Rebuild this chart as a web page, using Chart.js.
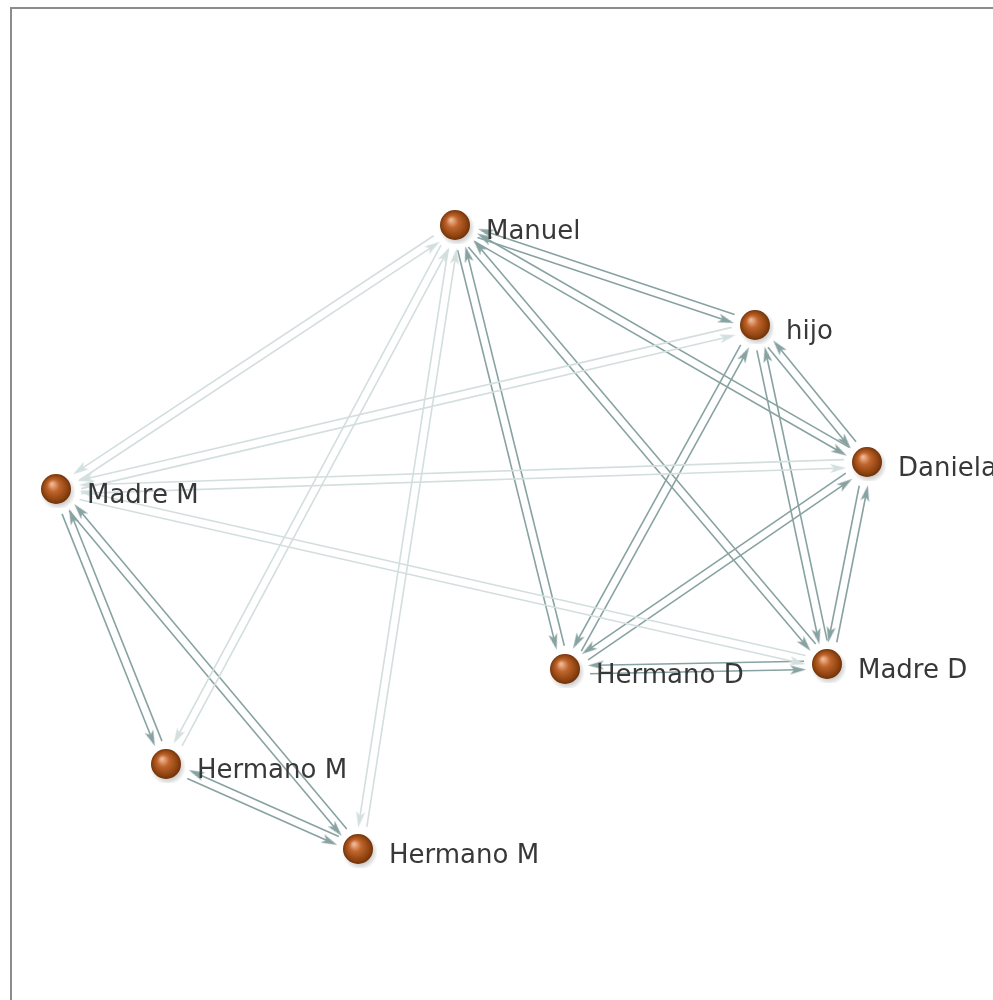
<!DOCTYPE html>
<html>
<head>
<meta charset="utf-8">
<script src="https://cdn.jsdelivr.net/npm/chart.js@4"></script>
<style>
  html, body { margin: 0; padding: 0; background: #ffffff; }
  #frame { position: absolute; left: 10px; top: 7px; width: 1100px; height: 1100px;
           border-left: 2px solid #8c8c8c; border-top: 2px solid #8c8c8c; box-sizing: border-box; }
  #wrap { position: absolute; left: 0; top: 0; width: 993px; height: 1000px; }
</style>
</head>
<body>
<div id="frame"></div>
<div id="wrap"><canvas id="c" width="993" height="1000"></canvas></div>
<script>
// ---- data ----
const nodeNames = ['Manuel', 'hijo', 'Daniela', 'Madre M', 'Hermano D', 'Madre D', 'Hermano M', 'Hermano M'];
const nodeX = [456, 756, 868, 57, 566, 828, 167, 359];
const nodeY = [226, 326, 463, 490, 670, 665, 765, 850];

// directed edges (index into nodes); strength: 1 = strong (dark), 0 = weak (light)
const edgeFrom     = [0,1, 0,2, 0,4, 0,5, 1,2, 1,4, 1,5, 2,4, 2,5, 4,5, 3,6, 3,7, 6,7,  0,3, 0,6, 0,7, 3,1, 3,2, 3,5];
const edgeTo       = [1,0, 2,0, 4,0, 5,0, 2,1, 4,1, 5,1, 4,2, 5,2, 5,4, 6,3, 7,3, 7,6,  3,0, 6,0, 7,0, 1,3, 2,3, 5,3];
const edgeStrength = [1,1, 1,1, 1,1, 1,1, 1,1, 1,1, 1,1, 1,1, 1,1, 1,1, 1,1, 1,1, 1,1,  0,0, 0,0, 0,0, 0,0, 0,0, 0,0];

// ---- styling helpers ----
const STRONG = '#88a2a2';
const WEAK = '#d3dede';

function makeArrow(color) {
  const c = document.createElement('canvas');
  c.width = 9; c.height = 16;
  const g = c.getContext('2d');
  g.fillStyle = color;
  g.beginPath();
  g.moveTo(4.5, 0);
  g.lineTo(9, 16);
  g.lineTo(4.5, 12);
  g.lineTo(0, 16);
  g.closePath();
  g.fill();
  return c;
}
function makeBall() {
  const s = 36;
  const c = document.createElement('canvas');
  c.width = s; c.height = s;
  const g = c.getContext('2d');
  const sh = g.createRadialGradient(19, 20, 11, 19, 20, 18);
  sh.addColorStop(0, 'rgba(0,0,0,0.22)');
  sh.addColorStop(1, 'rgba(0,0,0,0)');
  g.fillStyle = sh;
  g.beginPath(); g.arc(19, 20, 18, 0, Math.PI * 2); g.fill();
  const grd = g.createRadialGradient(13, 12, 1, 17, 17, 15.5);
  grd.addColorStop(0, '#eeb590');
  grd.addColorStop(0.35, '#c0642c');
  grd.addColorStop(0.8, '#8c420f');
  grd.addColorStop(1, '#6a2e08');
  g.fillStyle = grd;
  g.beginPath(); g.arc(17, 17, 15, 0, Math.PI * 2); g.fill();
  return c;
}
const arrowStrong = makeArrow(STRONG);
const arrowWeak = makeArrow(WEAK);
const ball = makeBall();

// ---- build datasets from the data ----
const OFFSET = 4.2, START_GAP = 24, END_GAP = 30;
const edgeSets = [];
[0, 1].forEach(strength => {
  edgeFrom.forEach((a, i) => {
    if (edgeStrength[i] !== strength) return;
    const b = edgeTo[i];
    const dx = nodeX[b] - nodeX[a], dy = nodeY[b] - nodeY[a];
    const L = Math.hypot(dx, dy);
    const ux = dx / L, uy = dy / L;
    const nx = -uy, ny = ux;
    const p0 = { x: nodeX[a] + ux * START_GAP + nx * OFFSET, y: nodeY[a] + uy * START_GAP + ny * OFFSET };
    const p1 = { x: nodeX[b] - ux * END_GAP + nx * OFFSET, y: nodeY[b] - uy * END_GAP + ny * OFFSET };
    const rot = Math.atan2(dx, -dy) * 180 / Math.PI;
    const col = strength ? STRONG : WEAK;
    edgeSets.push({
      type: 'scatter',
      data: [p0, p1],
      showLine: true,
      borderColor: col,
      borderWidth: 1.6,
      pointStyle: [false, strength ? arrowStrong : arrowWeak],
      pointRadius: [0, 8],
      rotation: [0, rot],
      backgroundColor: col,
      clip: false,
      order: 10
    });
  });
});

const nodeSet = {
  type: 'scatter',
  data: nodeX.map((x, i) => ({ x: x, y: nodeY[i] })),
  pointStyle: ball,
  pointRadius: 18,
  clip: false,
  order: 0
};

const labelPlugin = {
  id: 'nodeLabels',
  afterDatasetsDraw(chart) {
    const ctx = chart.ctx;
    const xs = chart.scales.x, ys = chart.scales.y;
    ctx.save();
    ctx.font = '26px "DejaVu Sans", sans-serif';
    ctx.fillStyle = '#383838';
    ctx.textBaseline = 'middle';
    nodeNames.forEach((name, i) => {
      ctx.fillText(name, xs.getPixelForValue(nodeX[i]) + 30, ys.getPixelForValue(nodeY[i]) + 6);
    });
    ctx.restore();
  }
};

new Chart(document.getElementById('c'), {
  type: 'scatter',
  data: { datasets: [...edgeSets, nodeSet] },
  options: {
    responsive: false,
    animation: false,
    layout: { padding: 0, autoPadding: false },
    plugins: { legend: { display: false }, tooltip: { enabled: false } },
    scales: {
      x: { type: 'linear', min: 0, max: 993, display: false },
      y: { type: 'linear', min: 0, max: 1000, reverse: true, display: false }
    }
  },
  plugins: [labelPlugin]
});
</script>
</body>
</html>
